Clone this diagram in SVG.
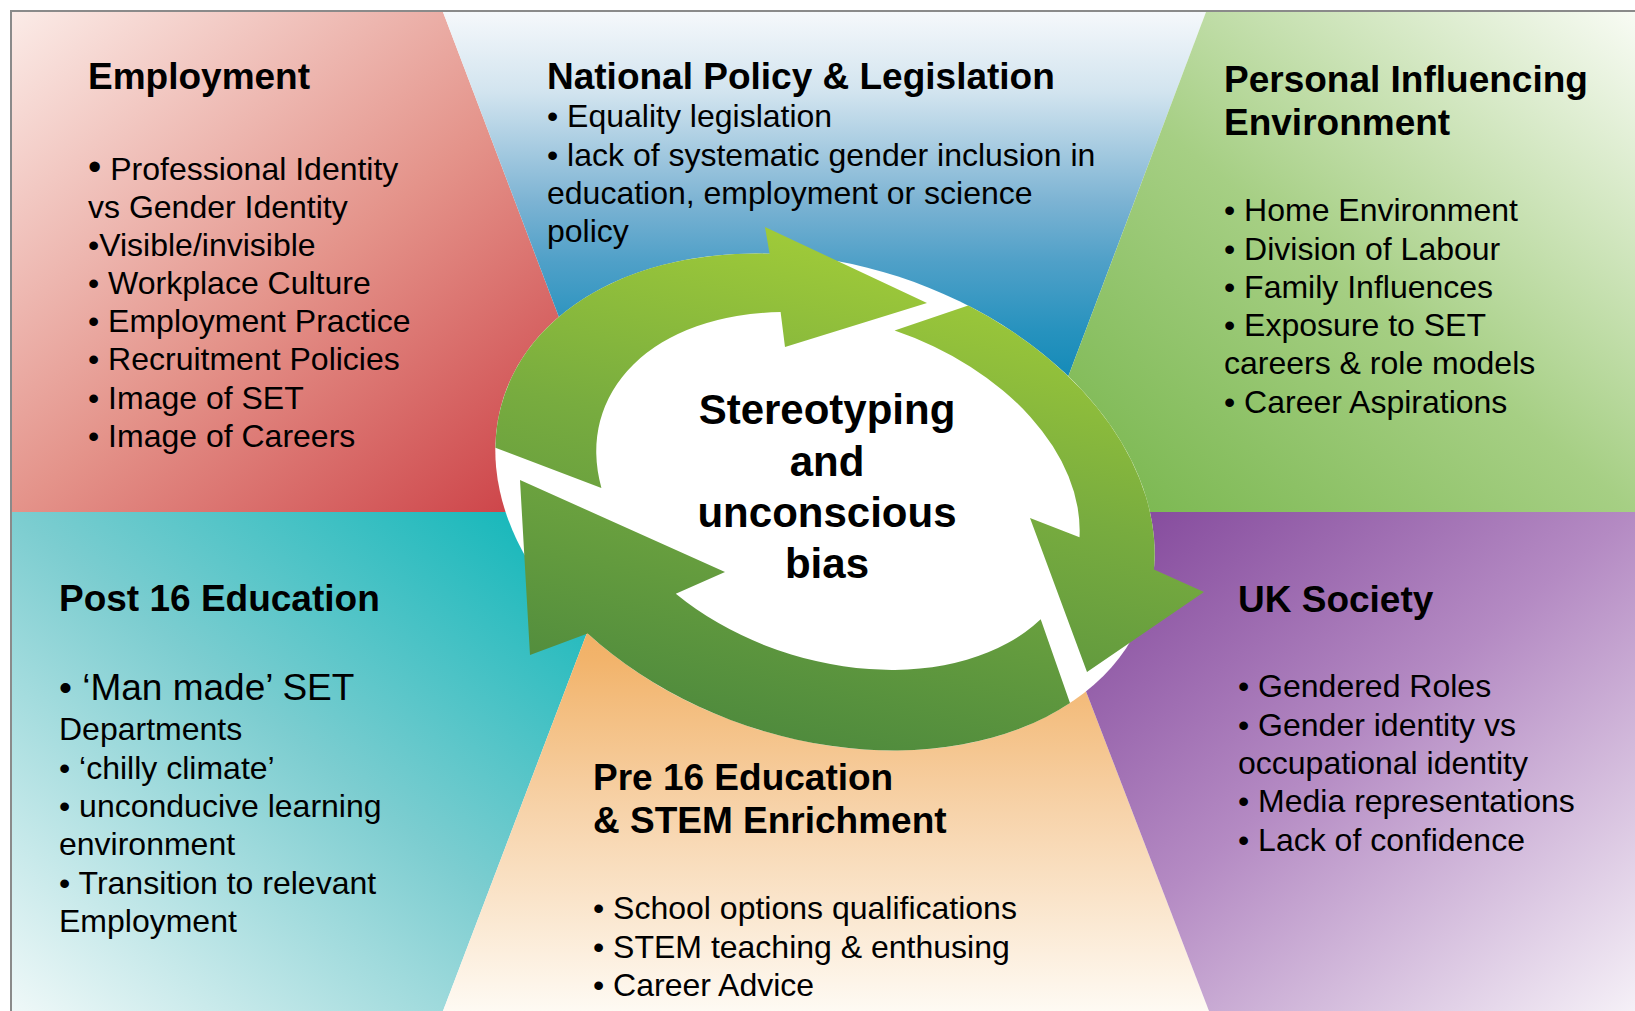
<svg xmlns="http://www.w3.org/2000/svg" width="1635" height="1011" viewBox="0 0 1635 1011">
  <defs>
    <style>
      .h { font-family: "Liberation Sans", Arial, sans-serif; font-weight: bold; font-size: 37px; fill: #000; }
      .t { font-family: "Liberation Sans", Arial, sans-serif; font-size: 32px; fill: #000; }
      .t-big { font-family: "Liberation Sans", Arial, sans-serif; font-size: 37px; fill: #000; }
      .c { font-family: "Liberation Sans", Arial, sans-serif; font-weight: bold; font-size: 42px; fill: #000; text-anchor: middle; }
      .arrow { fill: url(#gArrow); }
    </style>
    <linearGradient id="gRed" x1="0" y1="0" x2="1" y2="1">
      <stop offset="0" stop-color="#fbebe7"/>
      <stop offset="0.5" stop-color="#e4938a"/>
      <stop offset="1" stop-color="#c8323a"/>
    </linearGradient>
    <linearGradient id="gBlue" x1="0" y1="0" x2="0" y2="1">
      <stop offset="0" stop-color="#f5f8fb"/>
      <stop offset="0.16" stop-color="#d2e4ef"/>
      <stop offset="0.38" stop-color="#7cb3d3"/>
      <stop offset="0.5" stop-color="#4fa0c8"/>
      <stop offset="0.64" stop-color="#2692be"/>
      <stop offset="0.76" stop-color="#0f88b6"/>
      <stop offset="1" stop-color="#0584b2"/>
    </linearGradient>
    <linearGradient id="gGreen" x1="0" y1="1" x2="1" y2="0">
      <stop offset="0" stop-color="#72b346"/>
      <stop offset="0.5" stop-color="#a6cf84"/>
      <stop offset="1" stop-color="#f8fbf4"/>
    </linearGradient>
    <linearGradient id="gTeal" x1="1" y1="0" x2="0" y2="1">
      <stop offset="0" stop-color="#00b3b6"/>
      <stop offset="0.5" stop-color="#7ccdd0"/>
      <stop offset="1" stop-color="#eff8f8"/>
    </linearGradient>
    <linearGradient id="gOrange" x1="0" y1="0" x2="0" y2="1">
      <stop offset="0" stop-color="#eea14a"/>
      <stop offset="0.3" stop-color="#f2b46c"/>
      <stop offset="0.6" stop-color="#f7d3aa"/>
      <stop offset="1" stop-color="#fefaf3"/>
    </linearGradient>
    <linearGradient id="gPurple" x1="0" y1="0" x2="1" y2="1">
      <stop offset="0" stop-color="#7a3c94"/>
      <stop offset="0.5" stop-color="#b48ac3"/>
      <stop offset="1" stop-color="#f5f0f7"/>
    </linearGradient>
    <linearGradient id="gArrow" gradientUnits="userSpaceOnUse" x1="880" y1="225" x2="760" y2="750">
      <stop offset="0" stop-color="#a4ce38"/>
      <stop offset="0.45" stop-color="#78ac3f"/>
      <stop offset="1" stop-color="#4d893d"/>
    </linearGradient>
  </defs>

  <!-- page background -->
  <rect x="0" y="0" width="1635" height="1011" fill="#ffffff"/>

  <!-- six coloured sectors -->
  <g id="sectors">
    <polygon id="sector-employment" points="12,12 443,12 633,512 12,512" fill="url(#gRed)"/>
    <polygon id="sector-policy" points="443,12 1206,12 1017,512 633,512" fill="url(#gBlue)"/>
    <polygon id="sector-personal" points="1206,12 1635,12 1635,512 1017,512" fill="url(#gGreen)"/>
    <polygon id="sector-post16" points="12,512 633,512 443,1011 12,1011" fill="url(#gTeal)"/>
    <polygon id="sector-pre16" points="633,512 1017,512 1209,1011 443,1011" fill="url(#gOrange)"/>
    <polygon id="sector-society" points="1017,512 1635,512 1635,1011 1209,1011" fill="url(#gPurple)"/>
  </g>

  <!-- frame lines -->
  <line x1="10" y1="11" x2="1635" y2="11" stroke="#8a8a8a" stroke-width="2"/>
  <line x1="11" y1="10" x2="11" y2="1011" stroke="#8a8a8a" stroke-width="2"/>

  <!-- central cycle: white disc behind three curved arrows -->
  <g id="cycle">
    <ellipse cx="825" cy="502" rx="338" ry="237" transform="rotate(18 825 502)" fill="#ffffff"/>
    <g id="connectors">
      <path id="arrow-top" class="arrow" d="M495.4,447.7 A338,237 18 0 1 769.6,253.7 L765,227 L927,303 L785,347 L780.6,312.1 A248,170 18 0 0 601.4,488 Z"/>
      <path id="arrow-right" class="arrow" d="M968.2,305.6 A338,237 18 0 1 1154,569.4 L1204,592 L1087,672 L1030,518 L1079.5,537.2 A248,170 18 0 0 894.6,330.6 Z"/>
      <path id="arrow-bottom" class="arrow" d="M1070,703.1 A338,237 18 0 1 587.7,633.4 L530,655 L520,480 L725,572 L675.8,593.7 A248,170 18 0 0 1040.7,619.2 Z"/>
    </g>
    <text class="c" x="827" y="424">Stereotyping</text>
    <text class="c" x="827" y="476">and</text>
    <text class="c" x="827" y="527">unconscious</text>
    <text class="c" x="827" y="578">bias</text>
  </g>

  <g id="node-employment">
    <text class="h" x="88" y="89">Employment</text>
    <text class="t" x="88" y="180"><tspan font-size="38" style="font-size:38px">•</tspan> Professional Identity</text>
    <text class="t" x="88" y="218">vs Gender Identity</text>
    <text class="t" x="88" y="256">•Visible/invisible</text>
    <text class="t" x="88" y="294">• Workplace Culture</text>
    <text class="t" x="88" y="332">• Employment Practice</text>
    <text class="t" x="88" y="370">• Recruitment Policies</text>
    <text class="t" x="88" y="408.5">• Image of SET</text>
    <text class="t" x="88" y="446.5">• Image of Careers</text>
  </g>

  <g id="node-policy">
    <text class="h" x="547" y="89">National Policy &amp; Legislation</text>
    <text class="t" x="547" y="127">• Equality legislation</text>
    <text class="t" x="547" y="165.5">• lack of systematic gender inclusion in</text>
    <text class="t" x="547" y="204">education, employment or science</text>
    <text class="t" x="547" y="242">policy</text>
  </g>

  <g id="node-personal">
    <text class="h" x="1224" y="92">Personal Influencing</text>
    <text class="h" x="1224" y="135">Environment</text>
    <text class="t" x="1224" y="221">• Home Environment</text>
    <text class="t" x="1224" y="259.5">• Division of Labour</text>
    <text class="t" x="1224" y="297.5">• Family Influences</text>
    <text class="t" x="1224" y="336">• Exposure to SET</text>
    <text class="t" x="1224" y="374">careers &amp; role models</text>
    <text class="t" x="1224" y="412.5">• Career Aspirations</text>
  </g>

  <g id="node-post16">
    <text class="h" x="59" y="611">Post 16 Education</text>
    <text class="t-big" x="59" y="700">• ‘Man made’ SET</text>
    <text class="t" x="59" y="739.5">Departments</text>
    <text class="t" x="59" y="778.5">• ‘chilly climate’</text>
    <text class="t" x="59" y="817">• unconducive learning</text>
    <text class="t" x="59" y="855">environment</text>
    <text class="t" x="59" y="893.5">• Transition to relevant</text>
    <text class="t" x="59" y="932">Employment</text>
  </g>

  <g id="node-pre16">
    <text class="h" x="593" y="790">Pre 16 Education</text>
    <text class="h" x="593" y="833">&amp; STEM Enrichment</text>
    <text class="t" x="593" y="919">• School options qualifications</text>
    <text class="t" x="593" y="957.5">• STEM teaching &amp; enthusing</text>
    <text class="t" x="593" y="996">• Career Advice</text>
  </g>

  <g id="node-society">
    <text class="h" x="1238" y="612">UK Society</text>
    <text class="t" x="1238" y="697">• Gendered Roles</text>
    <text class="t" x="1238" y="735.5">• Gender identity vs</text>
    <text class="t" x="1238" y="774">occupational identity</text>
    <text class="t" x="1238" y="812">• Media representations</text>
    <text class="t" x="1238" y="850.5">• Lack of confidence</text>
  </g>
</svg>
